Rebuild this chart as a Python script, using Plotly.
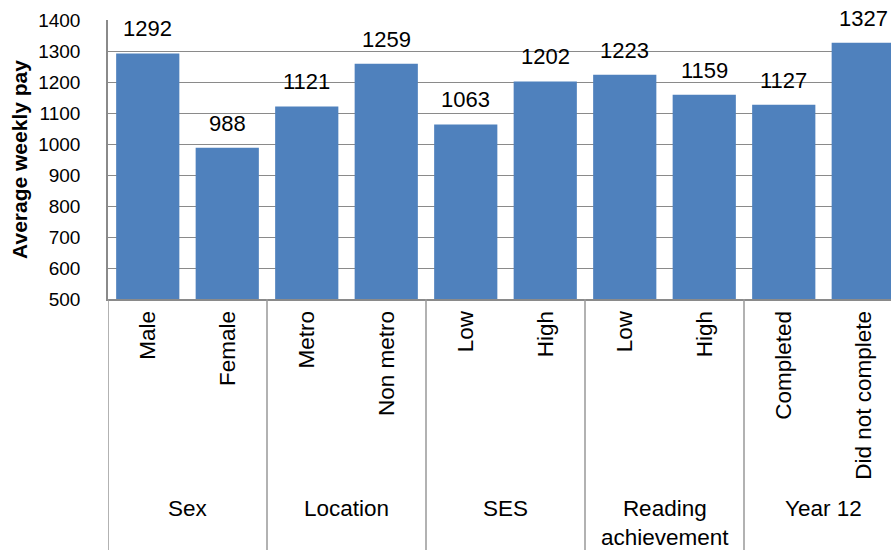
import plotly.graph_objects as go

groups = ["Sex", "Location", "SES", "Reading<br>achievement", "Year 12"]
sub_labels = ["Male", "Female", "Metro", "Non metro", "Low", "High",
              "Low", "High", "Completed", "Did not complete"]
group_of = [0, 0, 1, 1, 2, 2, 3, 3, 4, 4]
values = [1292, 988, 1121, 1259, 1063, 1202, 1223, 1159, 1127, 1327]
y_ticks = [500, 600, 700, 800, 900, 1000, 1100, 1200, 1300, 1400]

FONT = "Liberation Sans, Arial, sans-serif"
positions = list(range(len(values)))

fig = go.Figure()
fig.add_trace(go.Bar(
    x=positions, y=values,
    marker=dict(color="#4F81BD", line=dict(width=0)),
    width=0.795,
    hoverinfo="x+y",
))

# data labels
for xi, v in zip(positions, values):
    fig.add_annotation(x=xi, y=v, xref="x", yref="y", text=str(v),
                       showarrow=False, yanchor="bottom", yshift=10,
                       font=dict(family=FONT, size=22, color="#000"))

# group labels and dividers
bounds = []
for g in range(len(groups)):
    idx = [i for i, gg in enumerate(group_of) if gg == g]
    center = (idx[0] + idx[-1]) / 2
    fig.add_annotation(x=center, y=-0.70, xref="x", yref="paper",
                       text=groups[g], showarrow=False, yanchor="top",
                       font=dict(family=FONT, size=22.5, color="#000"))
    bounds.append(idx[0] - 0.5)
    if g == len(groups) - 1:
        bounds.append(idx[-1] + 0.5)
for b in bounds:
    fig.add_shape(type="line", xref="x", yref="paper", x0=b, x1=b,
                  y0=0, y1=-0.92, line=dict(color="#999999", width=1.5))

fig.update_layout(
    width=891, height=550,
    margin=dict(l=108, r=0, t=20, b=251, autoexpand=False),
    plot_bgcolor="white", paper_bgcolor="white",
    showlegend=False,
    font=dict(family=FONT, color="#000"),
)
fig.update_xaxes(
    range=[-0.5, 9.349], automargin=False,
    tickvals=positions, ticktext=sub_labels, tickangle=-90,
    tickfont=dict(family=FONT, size=22.5, color="#000"),
    ticks="", ticklabelstandoff=1,
    showline=True, linecolor="#8a8a8a", linewidth=2,
    showgrid=False, zeroline=False,
)
fig.update_yaxes(
    range=[500, 1400], tickvals=y_ticks, automargin=False,
    tickfont=dict(family=FONT, size=19, color="#000"),
    ticks="", ticklabelstandoff=22,
    showline=True, linecolor="#8a8a8a", linewidth=1.5,
    showgrid=True, gridcolor="#8a8a8a", gridwidth=1,
    zeroline=False,
    title=dict(text="<b>Average weekly pay</b>", standoff=5,
               font=dict(family=FONT, size=21, color="#000")),
)

fig.write_html("out.html",
               config={"displayModeBar": False},
               post_script="document.body.style.margin='0';"
                           "document.body.style.overflow='hidden';")
